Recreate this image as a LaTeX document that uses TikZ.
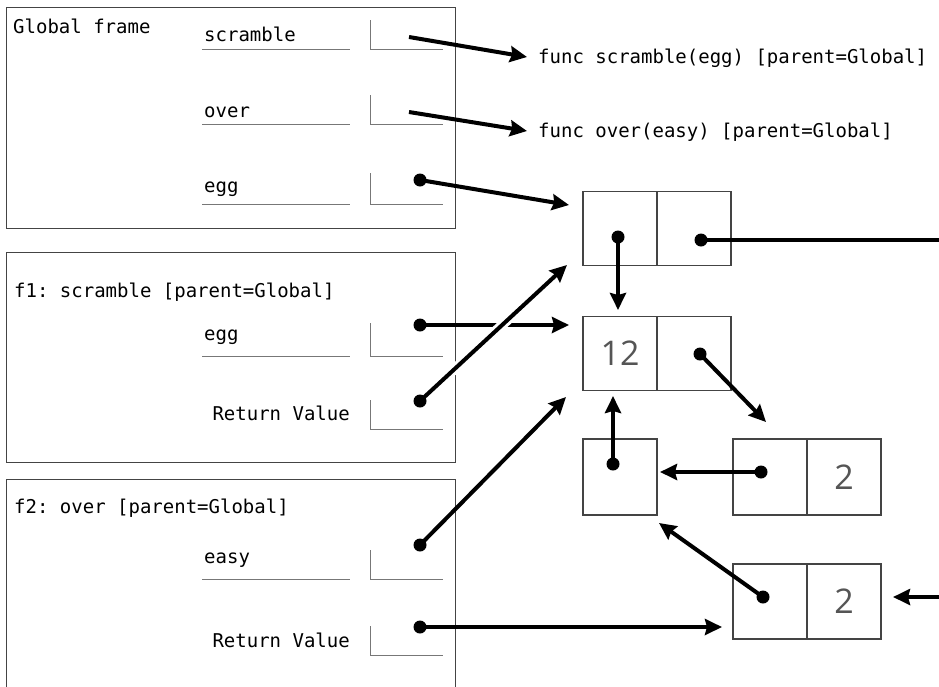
\documentclass[tikz,border=0pt]{standalone}
\usepackage{fontspec}
\setmonofont{DejaVu Sans Mono}
\newfontfamily\numfont{Open Sans}
\usetikzlibrary{arrows.meta}
\definecolor{framegray}{HTML}{444444}
\definecolor{linegray}{HTML}{777777}
\definecolor{numgray}{HTML}{555555}
\begin{document}
\begin{tikzpicture}[x=1pt,y=-1pt,
  frame/.style={draw=framegray,line width=1.2pt,inner sep=0pt},
  lbl/.style={inner sep=0pt,font=\ttfamily\fontsize{19}{22}\selectfont},
  slot/.style={draw=linegray,line width=1pt},
  cell/.style={draw=framegray,line width=1.2pt,minimum width=74pt,minimum height=74pt,inner sep=0pt,font=\numfont\fontsize{34}{40}\selectfont,text=numgray},
  ptr/.style={line width=4pt,-{Stealth[length=17pt,width=16pt,inset=2pt]}},
  ptrline/.style={line width=4pt},
  halo/.style={preaction={draw=white,line width=10pt,shorten <=12pt,shorten >=22pt}},
  dot/.style={fill=black}
]
\useasboundingbox (0,0) rectangle (939,686);
\fill[white] (0,0) rectangle (939,686);

% frames
\node[frame,minimum width=449pt,minimum height=221pt,anchor=north west] (gf) at (6,7) {};
\node[frame,minimum width=449pt,minimum height=210pt,anchor=north west] (f1) at (6,252) {};
\node[frame,minimum width=449pt,minimum height=240pt,anchor=north west] (f2) at (6,479) {};

% frame titles
\node[lbl,anchor=base west] (gft) at (13,33) {Global frame};
\node[lbl,anchor=base west] (f1t) at (14,297) {f1: scramble [parent=Global]};
\node[lbl,anchor=base west] (f2t) at (14,513) {f2: over [parent=Global]};

% variable names
\node[lbl,anchor=base west] (vscr) at (204,41) {scramble};
\node[lbl,anchor=base west] (vover) at (204,117) {over};
\node[lbl,anchor=base west] (vegg) at (204,192) {egg};
\node[lbl,anchor=base west] (v1egg) at (204,340) {egg};
\node[lbl,anchor=base east] (v1rv) at (350,420) {Return Value};
\node[lbl,anchor=base west] (v2easy) at (204,563) {easy};
\node[lbl,anchor=base east] (v2rv) at (350,647) {Return Value};

% name underlines and value slots
\foreach \y/\t in {49/20,124/95,204/173,356/323,579/550}{
  \draw[slot] (202,\y) -- (350,\y);
}
\foreach \y/\t in {49/20,124/95,204/173,356/323,429/400,579/550,655/626}{
  \draw[slot] (370,\t) -- (370,\y) -- (443,\y);
}

% function labels
\node[lbl,anchor=base west] (fscr) at (538,63) {func scramble(egg) [parent=Global]};
\node[lbl,anchor=base west] (fover) at (538,137) {func over(easy) [parent=Global]};

% heap objects
\node[cell] (o1a) at (620,228.5) {};
\node[cell] (o1b) at (694,228.5) {};
\node[cell] (o2a) at (620,353.5) {12};
\node[cell] (o2b) at (694,353.5) {};
\node[cell,minimum height=76pt] (o3a) at (620,477) {};
\node[cell,minimum height=76pt] (o4a) at (770,477) {};
\node[cell,minimum height=76pt] (o4b) at (844,477) {2};
\node[cell,minimum height=75pt] (o5a) at (770,601.5) {};
\node[cell,minimum height=75pt] (o5b) at (844,601.5) {2};

% pointer start points
\coordinate (sscr) at (409,37);
\coordinate (sover) at (409,112);
\coordinate (segg) at (420,180);
\coordinate (s1egg) at (420,325);
\coordinate (s1rv) at (420,401);
\coordinate (s2easy) at (420,545);
\coordinate (s2rv) at (420,627);
\coordinate (so1a) at (618,237);
\coordinate (so1b) at (701,240);
\coordinate (so2b) at (700,354);
\coordinate (so3a) at (613,464);
\coordinate (so4a) at (761,472);
\coordinate (so5a) at (763,597);
\coordinate (sright) at (939,597);

% pointer targets
\coordinate (tscr) at (527,57);
\coordinate (tover) at (527,131);
\coordinate (to1) at (569,205);
\coordinate (to2) at (569,325);
\coordinate (to1b) at (567,265);
\coordinate (to2b) at (566,397);
\coordinate (to5) at (722,627);
\coordinate (to2top) at (618,310);
\coordinate (eright) at (939,240);
\coordinate (to4) at (766,422);
\coordinate (to2bot) at (613,396);
\coordinate (to3r) at (660,472);
\coordinate (to3br) at (659,523);
\coordinate (to5r) at (893,597);

% connectors
\draw[ptr] (sscr) -- (tscr);
\draw[ptr] (sover) -- (tover);
\draw[ptr] (segg) -- (to1);
\draw[ptr] (s1egg) -- (to2);
\draw[ptr,halo] (s1rv) -- (to1b);
\draw[ptr] (s2easy) -- (to2b);
\draw[ptr] (s2rv) -- (to5);
\draw[ptr] (so1a) -- (to2top);
\draw[ptrline] (so1b) -- (eright);
\draw[ptr] (so2b) -- (to4);
\draw[ptr] (so3a) -- (to2bot);
\draw[ptr] (so4a) -- (to3r);
\draw[ptr] (so5a) -- (to3br);
\draw[ptr] (sright) -- (to5r);

% dots
\foreach \c in {segg,s1egg,s1rv,s2easy,s2rv,so1a,so1b,so2b,so3a,so4a,so5a}{
  \fill[dot] (\c) circle (6.5pt);
}
\end{tikzpicture}
\end{document}
